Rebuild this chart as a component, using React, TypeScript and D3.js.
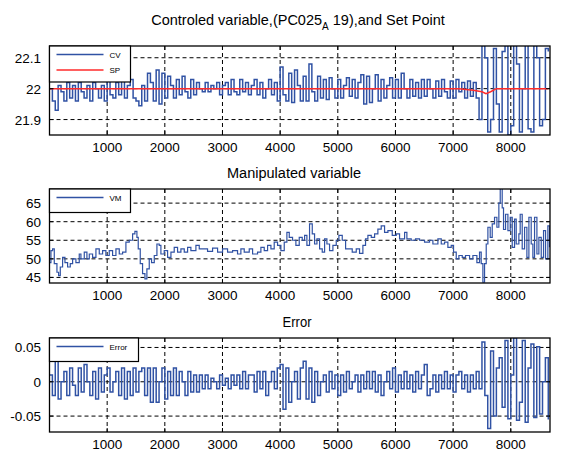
import React from 'react';
import * as d3 from 'd3';

// ---------- data ----------
const X_MAX = 8680;
const X_TICKS = [1000, 2000, 3000, 4000, 5000, 6000, 7000, 8000];
const SAMPLE_X = d3.range(0, 8651, 50); // sample index axis, step 50

const CV = [
  22.00, 21.96, 21.93, 22.01, 21.99, 21.96, 22.02, 21.97, 22.01, 21.96,
  22.02, 21.99, 21.97, 22.01, 21.96, 22.02, 22.00, 21.97, 22.01, 21.96,
  22.03, 21.98, 21.97, 22.02, 21.98, 22.03, 21.97, 22.01, 22.03, 21.97,
  21.96, 21.945, 22.01, 21.96, 22.05, 22.02, 21.96, 22.06, 21.95, 22.05,
  21.97, 22.04, 22.01, 21.97, 22.03, 21.98, 22.04, 21.99, 21.97, 22.03,
  21.98, 22.02, 22.00, 21.99, 22.02, 21.99, 22.01, 22.00, 22.02, 21.98,
  22.01, 22.02, 21.98, 22.03, 21.99, 21.98, 22.03, 21.99, 22.02, 21.98,
  22.01, 22.03, 21.98, 22.02, 21.97, 22.00, 22.03, 21.98, 22.02, 21.96,
  22.07, 21.98, 21.96, 22.05, 21.955, 22.06, 22.01, 21.96, 22.04, 21.96,
  22.08, 21.99, 21.96, 22.04, 21.97, 22.03, 21.965, 22.035, 22.00, 21.97,
  22.03, 21.97, 22.01, 22.035, 21.975, 22.03, 21.97, 22.02, 22.045, 21.95,
  22.04, 21.955, 22.00, 22.045, 21.96, 22.03, 21.97, 22.01, 22.035, 21.97,
  22.03, 21.97, 22.05, 22.00, 21.97, 22.03, 21.975, 22.02, 21.97, 22.03,
  21.975, 22.03, 22.00, 21.97, 22.025, 21.975, 22.03, 21.99, 21.97, 22.025,
  21.97, 22.03, 21.99, 22.02, 21.97, 22.025, 21.975, 22.02, 21.97,
  21.90, 22.14, 22.10, 21.86, 21.90, 22.13, 21.95, 21.86, 22.12, 22.14,
  21.85, 21.88, 22.14, 22.08, 21.86, 22.00, 22.15, 21.87, 21.86, 22.14,
  22.10, 21.88, 21.90, 22.13, 22.12,
];

const SP_X = [0, 7100, 7350, 7500, 7570, 7650, 7750, 8650];
const SP_Y = [22.0, 22.0, 21.995, 21.99, 21.984, 21.99, 22.0, 22.0];

const VM_X = [
  0, 25, 54, 83, 129, 158, 187, 227, 268, 314, 360, 401, 458, 516, 545, 603, 649, 690, 747, 805,
  863, 921, 978, 1036, 1094, 1152, 1210, 1268, 1325, 1383, 1441, 1481, 1516, 1539, 1574, 1614, 1655, 1689, 1730, 1770,
  1817, 1863, 1903, 1932, 1990, 2048, 2106, 2163, 2221, 2279, 2337, 2395, 2452, 2539, 2597, 2684, 2741, 2828, 2915, 3001,
  3088, 3175, 3261, 3319, 3377, 3464, 3522, 3608, 3666, 3724, 3782, 3840, 3897, 3955, 4013, 4071, 4117, 4158, 4215, 4273,
  4331, 4383, 4424, 4464, 4510, 4557, 4597, 4638, 4684, 4730, 4771, 4811, 4857, 4915, 4973, 5019, 5077, 5135, 5192, 5250,
  5320, 5377, 5435, 5481, 5522, 5580, 5638, 5695, 5753, 5811, 5869, 5944, 6013, 6071, 6158, 6198, 6273, 6348, 6418, 6504,
  6591, 6649, 6736, 6794, 6851, 6909, 6967, 7007, 7054, 7100, 7158, 7215, 7285, 7343, 7412, 7458, 7487, 7516, 7545, 7574,
  7603, 7643, 7678, 7718, 7759, 7793, 7817, 7851, 7874, 7909, 7950, 7990, 8025, 8065, 8094, 8140, 8163, 8198, 8239, 8279,
  8314, 8354, 8383, 8412, 8453, 8487, 8528, 8568, 8603, 8643, 8672,
];
const VM_Y = [
  49, 52.2, 52.7, 48.7, 46.4, 45.5, 47.8, 50.4, 49, 47.8, 48.7, 50, 49, 51.3, 50, 51.8, 50, 51.3, 50.4, 52.7,
  51.3, 52.2, 50.9, 52.2, 50.9, 52.7, 51.3, 51.8, 54.5, 55, 56.7, 57.4, 55.8, 52.7, 48.7, 46, 44.6, 47.3, 50, 49,
  50.9, 54, 53.6, 51.3, 52.2, 50.4, 51.8, 53.1, 51.8, 52.7, 51.8, 53.1, 52.2, 53.6, 52.7, 52.7, 52, 52.9, 51.8, 52.7,
  51.8, 52.2, 51.3, 52.7, 51.8, 52.7, 51.3, 51.8, 53.1, 52.2, 53.6, 52.7, 54.5, 53.6, 52.2, 54.5, 57.1, 55.8, 55, 53.6,
  55.8, 55, 56.3, 53.6, 59.4, 56.7, 54, 55.4, 52.7, 51.8, 55.4, 54, 52.2, 53.6, 55, 56.3, 55, 52.7, 52.7, 51.8,
  52.7, 51.5, 53.6, 55.4, 56.3, 55.8, 56.7, 58, 58.9, 57.1, 57.6, 56.3, 56.7, 55.4, 57.1, 55.4, 55, 55.4, 55, 54.5,
  55, 54, 55.4, 54, 54.5, 53.1, 53.6, 51.8, 50, 50.9, 50.4, 50.9, 50, 50.9, 49, 51.8, 48.7, 43.7, 48.7, 54,
  58.5, 55.8, 59.4, 61.2, 58.5, 65, 69, 63.7, 57.9, 62, 57.6, 61.2, 53.1, 60.7, 54, 56.7, 62, 52.7, 58.5, 50.4,
  61.2, 54, 50.4, 61.2, 51.3, 55.8, 50.4, 57.6, 50, 58.9, 53.1,
];

const ERR = [
  0.01, -0.02, 0.03, -0.025, 0.0, 0.015, -0.02, 0.02, -0.005, -0.02,
  0.02, -0.015, 0.025, 0.0, -0.02, 0.015, -0.025, 0.02, -0.015, 0.01,
  0.02, -0.015, 0.0, 0.015, -0.02, 0.02, -0.025, 0.015, -0.02, 0.02,
  -0.015, 0.015, 0.02, -0.02, 0.02, -0.03, 0.02, -0.03, 0.0, 0.02,
  -0.025, 0.015, -0.02, 0.02, -0.02, 0.015, 0.0, -0.02, 0.015, -0.015,
  0.01, -0.015, 0.01, -0.01, 0.01, -0.01, 0.005, 0.0, -0.01, 0.01,
  -0.005, 0.005, -0.01, 0.01, -0.005, 0.01, -0.01, 0.015, -0.01, 0.01,
  0.01, -0.015, 0.015, -0.01, 0.015, -0.02, 0.0, 0.015, -0.01, 0.02,
  0.025, -0.04, 0.02, -0.03, 0.0, 0.015, -0.025, 0.02, 0.03, -0.025,
  0.02, -0.03, 0.015, -0.02, 0.0, 0.01, -0.015, 0.015, -0.01, 0.01,
  -0.02, 0.01, -0.015, 0.015, -0.01, 0.0, 0.01, -0.015, 0.01, -0.01,
  0.015, -0.01, 0.015, -0.015, 0.01, -0.02, 0.0, 0.015, -0.01, 0.02,
  -0.015, 0.01, -0.01, 0.015, -0.01, 0.01, -0.015, 0.015, -0.01, 0.01,
  0.025, -0.02, -0.01, 0.01, -0.015, 0.01, -0.01, 0.015, -0.01, 0.01,
  -0.015, 0.01, 0.015, -0.01, 0.01, -0.015, 0.01, -0.01, 0.015,
  -0.01, 0.058, -0.02, -0.068, 0.045, -0.05, 0.02, 0.035, -0.037, 0.06,
  -0.054, 0.01, 0.064, -0.056, -0.03, 0.06, -0.059, 0.02, 0.055, -0.052,
  0.051, -0.047, 0.0, 0.035, -0.055,
];

const P1_TICKS = [21.9, 22, 22.1];
const P1_TICK_LABELS = ['21.9', '22', '22.1'];
const P2_TICKS = [45, 50, 55, 60, 65];
const P2_TICK_LABELS = ['45', '50', '55', '60', '65'];
const P3_TICKS = [-0.05, 0, 0.05];
const P3_TICK_LABELS = ['-0.05', '0', '0.05'];

// ---------- layout ----------
const W = 562, H = 465;
const LEFT = 49.5, RIGHT = 550;
const BLUE = '#3052a4';
const RED = '#ff2b2b';
const FONT = '"Liberation Sans", Arial, Helvetica, sans-serif';

type Series = { xs: number[]; ys: number[]; color: string; curve: any; width: number };
type LegendItem = { label: string; color: string };

const x = d3.scaleLinear().domain([0, X_MAX]).range([LEFT, RIGHT]);

function Panel(props: {
  id: string; top: number; bottom: number; domain: [number, number];
  ticks: number[]; tickLabels: string[]; series: Series[];
  legend: LegendItem[]; legendW: number;
}) {
  const { id, top, bottom, domain, ticks, tickLabels, series, legend, legendW } = props;
  const y = d3.scaleLinear().domain(domain).range([bottom, top]);
  const legendH = 11 + legend.length * 12.5;
  return (
    <g>
      <defs>
        <clipPath id={id}>
          <rect x={LEFT} y={top} width={RIGHT - LEFT} height={bottom - top} />
        </clipPath>
      </defs>
      <rect x={LEFT} y={top} width={RIGHT - LEFT} height={bottom - top} fill="#fff" />
      {X_TICKS.map((t) => (
        <line key={'gx' + t} x1={x(t)} x2={x(t)} y1={top} y2={bottom} stroke="#000" strokeWidth={1} strokeDasharray="4,3" />
      ))}
      {ticks.map((t) => (
        <line key={'gy' + t} x1={LEFT} x2={RIGHT} y1={y(t)} y2={y(t)} stroke="#000" strokeWidth={1} strokeDasharray="4,3" />
      ))}
      <g clipPath={`url(#${id})`}>
        {series.map((s, i) => {
          const pts = s.xs.map((xv, k) => [xv, s.ys[k]] as [number, number]);
          const gen = d3.line<[number, number]>().x((d) => x(d[0])).y((d) => y(d[1])).curve(s.curve);
          return <path key={i} d={gen(pts) || ''} fill="none" stroke={s.color} strokeWidth={s.width} strokeLinejoin="miter" />;
        })}
      </g>
      {X_TICKS.map((t) => (
        <g key={'tx' + t}>
          <line x1={x(t)} x2={x(t)} y1={bottom} y2={bottom - 4} stroke="#000" />
          <line x1={x(t)} x2={x(t)} y1={top} y2={top + 4} stroke="#000" />
          <text x={x(t)} y={bottom + 16.5} textAnchor="middle" fontSize={13.5} fontFamily={FONT} fill="#000">{t}</text>
        </g>
      ))}
      {ticks.map((t, i) => (
        <g key={'ty' + t}>
          <line x1={LEFT} x2={LEFT + 4} y1={y(t)} y2={y(t)} stroke="#000" />
          <line x1={RIGHT} x2={RIGHT - 4} y1={y(t)} y2={y(t)} stroke="#000" />
          <text x={41} y={y(t) + 5} textAnchor="end" fontSize={13.5} fontFamily={FONT} fill="#000">{tickLabels[i]}</text>
        </g>
      ))}
      <rect x={LEFT} y={top} width={RIGHT - LEFT} height={bottom - top} fill="none" stroke="#000" strokeWidth={1.3} />
      <rect x={LEFT} y={top} width={legendW} height={legendH} fill="#fff" stroke="#000" strokeWidth={1.2} />
      {legend.map((l, i) => {
        const ly = top + 8.5 + i * 15.5;
        return (
          <g key={l.label}>
            <line x1={LEFT + 7} x2={LEFT + 54} y1={ly} y2={ly} stroke={l.color} strokeWidth={1.3} />
            <text x={LEFT + 60} y={ly + 3} fontSize={8} fontFamily={FONT} fill="#000">{l.label}</text>
          </g>
        );
      })}
    </g>
  );
}

export default function App() {
  return (
    <svg width={W} height={H} style={{ position: 'absolute', left: 0, top: 0, background: '#fff' }}>
      <rect x={0} y={0} width={W} height={H} fill="#fff" />
      <text x={298} y={25} textAnchor="middle" fontSize={14.5} fontFamily={FONT} fill="#000">
        Controled variable,(PC025<tspan fontSize={10} dy={5}>A</tspan><tspan dy={-5}> 19),and Set Point</tspan>
      </text>
      <text x={294} y={178} textAnchor="middle" fontSize={14} fontFamily={FONT} fill="#000" textLength={134} lengthAdjust="spacingAndGlyphs">Manipulated variable</text>
      <text x={297} y={327} textAnchor="middle" fontSize={14} fontFamily={FONT} fill="#000" textLength={29} lengthAdjust="spacingAndGlyphs">Error</text>
      <Panel
        id="p1" top={46} bottom={135} domain={[21.85, 22.138]}
        ticks={P1_TICKS} tickLabels={P1_TICK_LABELS}
        series={[
          { xs: SAMPLE_X, ys: CV, color: BLUE, curve: d3.curveStepAfter, width: 1.5 },
          { xs: SP_X, ys: SP_Y, color: RED, curve: d3.curveLinear, width: 1.5 },
        ]}
        legend={[{ label: 'CV', color: BLUE }, { label: 'SP', color: RED }]} legendW={81}
      />
      <Panel
        id="p2" top={189} bottom={283} domain={[43.5, 68.8]}
        ticks={P2_TICKS} tickLabels={P2_TICK_LABELS}
        series={[{ xs: VM_X, ys: VM_Y, color: BLUE, curve: d3.curveStepAfter, width: 1.2 }]}
        legend={[{ label: 'VM', color: BLUE }]} legendW={81}
      />
      <Panel
        id="p3" top={338} bottom={432} domain={[-0.0732, 0.0638]}
        ticks={P3_TICKS} tickLabels={P3_TICK_LABELS}
        series={[{ xs: SAMPLE_X, ys: ERR, color: BLUE, curve: d3.curveStepAfter, width: 1.5 }]}
        legend={[{ label: 'Error', color: BLUE }]} legendW={89}
      />
    </svg>
  );
}
